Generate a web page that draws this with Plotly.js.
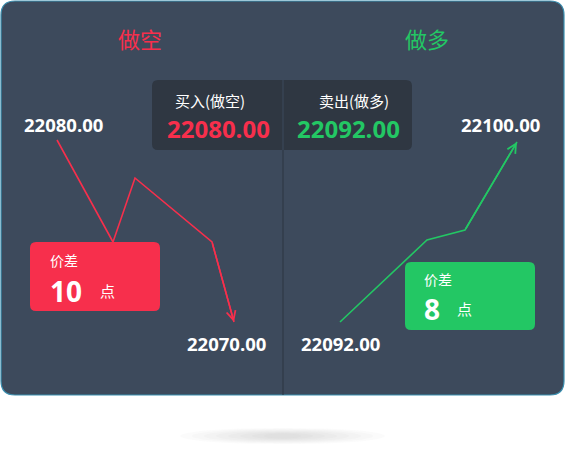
<!DOCTYPE html>
<html><head><meta charset="utf-8">
<script src="https://cdn.plot.ly/plotly-3.0.1.min.js"></script>
<style>body{margin:0;background:#fff}#chart{width:565px;height:458px}</style>
</head><body><div id="chart"></div>
<script>
// short side path (red) and long side path (green), in picture coordinates
const shortX = [57, 113, 135, 212, 234];
const shortY = [140, 242, 178, 242, 322];
const longX = [340, 427, 465, 517];
const longY = [322, 240, 230, 142];

const sideLabels = ['做空', '做多'];
const quoteLabels = ['买入(做空)', '卖出(做多)'];
const quotePrices = ['22080.00', '22092.00'];
const pointLabels = ['22080.00', '22070.00', '22092.00', '22100.00'];
const spreads = ['10', '8'];

const RED = '#f72f4c', GREEN = '#23c764', WHITE = '#ffffff';
const FONT = 'Noto Sans CJK SC, Noto Sans, sans-serif';
const NUMFONT = 'Open Sans, Noto Sans, sans-serif';

function roundRect(x0, y0, x1, y1, r){
  return `M${x0+r},${y0} L${x1-r},${y0} Q${x1},${y0} ${x1},${y0+r} L${x1},${y1-r} Q${x1},${y1} ${x1-r},${y1} L${x0+r},${y1} Q${x0},${y1} ${x0},${y1-r} L${x0},${y0+r} Q${x0},${y0} ${x0+r},${y0} Z`;
}

let shapes = [];
// soft shadow under the card
for (let i = 0; i < 8; i++) {
  shapes.push({type:'circle', xref:'x', yref:'y', x0:180+i*12, x1:385-i*12, y0:428+i*0.8, y1:444-i*0.8,
    fillcolor:'rgba(140,145,155,0.035)', line:{width:0}, layer:'below'});
}
shapes.push({type:'path', path:roundRect(1, 1, 564, 395, 14), fillcolor:'#3d4a5c', line:{color:'#3a8fb0', width:1.2}, layer:'below'});
shapes.push({type:'line', x0:283, x1:283, y0:80, y1:395, line:{color:'#2c3440', width:1}, layer:'below'});
shapes.push({type:'path', path:roundRect(152, 80, 412, 150, 6), fillcolor:'#2f3742', line:{width:0}, layer:'below'});
shapes.push({type:'line', x0:283, x1:283, y0:80, y1:150, line:{color:'#3d4a5c', width:1}, layer:'below'});
shapes.push({type:'path', path:roundRect(30, 242, 160, 311, 6), fillcolor:RED, line:{width:0}, layer:'above'});
shapes.push({type:'path', path:roundRect(405, 262, 535, 330, 6), fillcolor:GREEN, line:{width:0}, layer:'above'});

function txt(x, y, text, size, color, bold, font){
  return {x:x, y:y, xref:'x', yref:'y', text: bold ? '<b>'+text+'</b>' : text, showarrow:false,
    font:{family:font || FONT, size:size, color:color}};
}

let ann = [
  txt(140, 38, sideLabels[0], 22, RED, false),
  txt(427, 38, sideLabels[1], 22, GREEN, false),
  txt(210, 100, quoteLabels[0], 15, WHITE, false),
  txt(354, 100, quoteLabels[1], 15, WHITE, false),
  txt(218, 128, quotePrices[0], 24, RED, true, NUMFONT),
  txt(348, 128, quotePrices[1], 24, GREEN, true, NUMFONT),
  txt(63, 124, pointLabels[0], 18.5, WHITE, true, NUMFONT),
  txt(226, 343, pointLabels[1], 18.5, WHITE, true, NUMFONT),
  txt(340, 343, pointLabels[2], 18.5, WHITE, true, NUMFONT),
  txt(500, 124, pointLabels[3], 18.5, WHITE, true, NUMFONT),
  txt(64, 260, '价差', 14, WHITE, false),
  txt(66, 291, spreads[0], 28, WHITE, true, NUMFONT),
  txt(107, 290, '点', 15, WHITE, false),
  txt(438, 279, '价差', 14, WHITE, false),
  txt(432, 309, spreads[1], 28, WHITE, true, NUMFONT),
  txt(464, 308, '点', 15, WHITE, false),
  // arrow heads at the line ends
  {x:shortX[4], y:shortY[4], ax:shortX[3], ay:shortY[3], axref:'x', ayref:'y', xref:'x', yref:'y',
    showarrow:true, arrowhead:5, arrowsize:1.2, arrowwidth:1.5, arrowcolor:RED, text:''},
  {x:longX[3], y:longY[3], ax:longX[2], ay:longY[2], axref:'x', ayref:'y', xref:'x', yref:'y',
    showarrow:true, arrowhead:5, arrowsize:1.2, arrowwidth:1.5, arrowcolor:GREEN, text:''}
];

const data = [
  {x:shortX, y:shortY, mode:'lines', line:{color:RED, width:1.6}, hoverinfo:'skip'},
  {x:longX, y:longY, mode:'lines', line:{color:GREEN, width:1.6}, hoverinfo:'skip'}
];

const layout = {
  width:565, height:458, margin:{l:0, r:0, t:0, b:0},
  paper_bgcolor:'#fff', plot_bgcolor:'rgba(0,0,0,0)', showlegend:false,
  xaxis:{range:[0,565], visible:false, fixedrange:true},
  yaxis:{range:[458,0], visible:false, fixedrange:true},
  shapes:shapes, annotations:ann
};
Plotly.newPlot('chart', data, layout, {displayModeBar:false, staticPlot:true});
</script></body></html>
